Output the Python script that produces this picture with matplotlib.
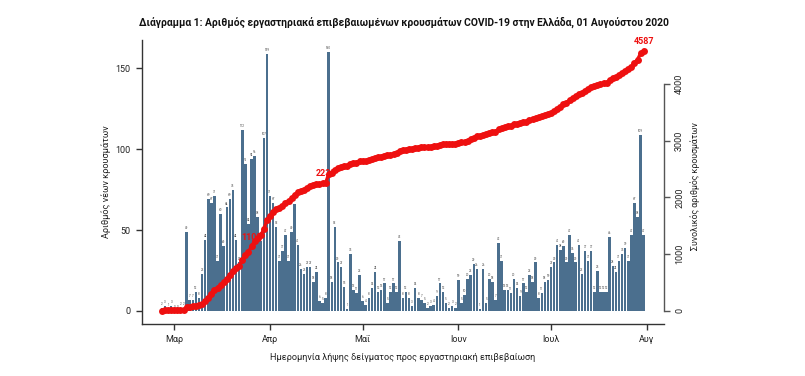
import numpy as np
import pandas as pd
import matplotlib
matplotlib.use("Agg")
import matplotlib.pyplot as plt
import matplotlib.dates as mdates

# ---------------- data ----------------
start_date = "2020-02-26"
daily_cases = [
    2, 3, 1, 3, 0, 0, 2, 2,
    49, 7, 7, 12, 8, 23, 44, 69, 67, 71, 31, 60, 40, 64, 69, 75, 44, 30, 112,
    91, 54, 94, 96, 58, 43, 107, 159,
    71, 67, 52, 31, 37, 47, 31, 49, 66, 41, 26, 23, 27, 27, 18, 24, 6, 5, 8, 160,
    18, 52, 30, 27, 15, 1, 35, 13, 11, 22, 6, 4, 8, 14, 24, 12, 13, 17, 5, 12,
    17, 12, 43, 8, 12, 8, 3, 14, 8, 7, 5, 2, 3, 4, 9, 17, 12,
    5, 2, 3, 2, 19, 5, 10, 20, 22, 29, 26, 1, 26, 5, 20, 18, 7,
    42, 31, 13, 13, 11, 20, 14, 9, 17, 12, 22, 18, 30, 8, 11, 18, 19, 27, 30, 41,
    38, 40, 30, 47, 36, 30, 41, 23, 37, 31, 37, 12, 25, 12, 12, 12, 46, 28, 24, 31,
    35, 39, 31, 47, 67, 58, 109, 47,
]
month_ticks = ["2020-03-01", "2020-04-01", "2020-05-01", "2020-06-01", "2020-07-01", "2020-08-01"]
month_labels = ["Μαρ", "Απρ", "Μαΐ", "Ιουν", "Ιουλ", "Αυγ"]
left_ticks = [0, 50, 100, 150]
right_ticks = [0, 1000, 2000, 3000, 4000]
milestone_dates = ["2020-03-26", "2020-04-19", "2020-07-31"]
milestone_labels = ["1100", "2235", "4587"]

title = "Διάγραμμα 1: Αριθμός εργαστηριακά επιβεβαιωμένων κρουσμάτων COVID-19 στην Ελλάδα, 01 Αυγούστου 2020"
xlabel = "Ημερομηνία λήψης δείγματος προς εργαστηριακή επιβεβαίωση"
ylabel_left = "Αριθμός νέων κρουσμάτων"
ylabel_right = "Συνολικός αριθμός κρουσμάτων"

# ---------------- derived ----------------
dates = pd.date_range(start_date, periods=len(daily_cases), freq="D")
values = np.array(daily_cases)
cumulative = np.cumsum(values)

plt.rcParams["font.family"] = ["Roboto", "DejaVu Sans"]

W, H = 805, 376
fig = plt.figure(figsize=(W / 100, H / 100), dpi=100)
fig.patch.set_facecolor("white")

L, R, T, B = 142, 664, 40, 324
ax = fig.add_axes([L / W, 1 - B / H, (R - L) / W, (B - T) / H])
ax2 = ax.twinx()

bar_color = "#4b6f8e"
red = "#ee1010"
axis_color = "#333333"

ax.bar(dates, values, width=0.82, color=bar_color, linewidth=0, zorder=2)
for d, v in zip(dates, values):
    ax.text(d, v + 1.2, str(v), fontsize=2.2, color="#444444",
            ha="center", va="bottom", zorder=3)

ax2.plot(dates, cumulative, color=red, lw=2.4, marker="o", markersize=5.0,
         markeredgewidth=0, zorder=4)
for md, lab in zip(milestone_dates, milestone_labels):
    i = list(dates).index(pd.Timestamp(md))
    ax2.annotate(lab, (dates[i], cumulative[i]), xytext=(0, 3.5),
                 textcoords="offset points", ha="center", va="bottom",
                 fontsize=6.5, fontweight="bold", color=red, zorder=3)

# x range (day units relative to 1 Mar)
mar1 = mdates.date2num(pd.Timestamp("2020-03-01"))
ppd = 3.088
ax.set_xlim(mar1 - (174.3 - L) / ppd, mar1 + (R - 174.3) / ppd)

# y ranges
ppu_left = 1.618
ax.set_ylim(-(B - 311) / ppu_left, (311 - T) / ppu_left)
ppu_right = 56.67 / 1000
ax2.set_ylim(-(B - 310.7) / ppu_right, (310.7 - T) / ppu_right)

# spines
for s in ["top", "right"]:
    ax.spines[s].set_visible(False)
for s in ["top", "left", "bottom"]:
    ax2.spines[s].set_visible(False)
ax.spines["left"].set_color(axis_color)
ax.spines["bottom"].set_color(axis_color)
ax.spines["left"].set_linewidth(1.0)
ax.spines["bottom"].set_linewidth(1.0)
ax2.spines["right"].set_color("#555555")
ax2.spines["right"].set_linewidth(1.0)
ax2.spines["right"].set_bounds(right_ticks[0], right_ticks[-1])

ax.set_xticks([pd.Timestamp(m) for m in month_ticks])
ax.set_xticklabels(month_labels)
ax.set_yticks(left_ticks)
ax.set_yticklabels([str(t) for t in left_ticks])
ax2.set_yticks(right_ticks)
ax2.set_yticklabels([str(t) for t in right_ticks])

ax.tick_params(axis="x", length=4, width=1, color=axis_color, labelsize=6.5,
               pad=4, labelcolor="#222222")
ax.tick_params(axis="y", length=4, width=1, color=axis_color, labelsize=6.5,
               pad=4, labelcolor="#222222")
ax2.tick_params(axis="y", length=4, width=1, color="#555555", labelsize=6.5,
                pad=4, labelcolor="#222222")
for lab in ax2.get_yticklabels():
    lab.set_rotation(90)
    lab.set_va("center")

ax.set_facecolor("none")
ax2.set_facecolor("none")

fig.text(404 / W, 1 - 22 / H, title, ha="center", va="center",
         fontsize=7.4, fontweight="bold", color="#111111")
fig.text(403 / W, 1 - 357 / H, xlabel, ha="center", va="center",
         fontsize=6.6, color="#222222")
fig.text(106 / W, 1 - 182 / H, ylabel_left, ha="center", va="center",
         rotation=90, fontsize=6.6, color="#222222")
fig.text(695 / W, 1 - 186 / H, ylabel_right, ha="center", va="center",
         rotation=90, fontsize=6.3, color="#222222")

fig.savefig("out.png", dpi=100, facecolor="white")
